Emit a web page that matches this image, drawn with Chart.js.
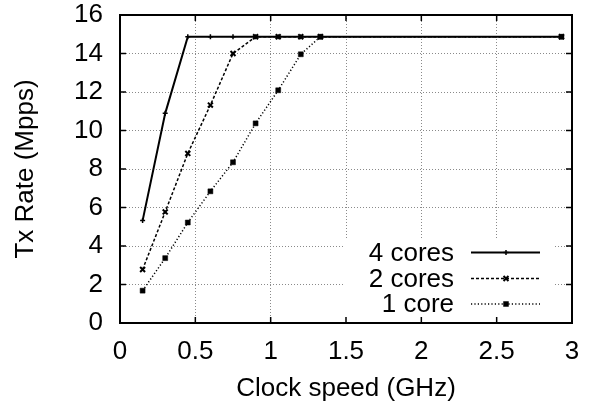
<!DOCTYPE html>
<html>
<head>
<meta charset="utf-8">
<script src="https://cdn.jsdelivr.net/npm/chart.js@4/dist/chart.umd.min.js"></script>
<style>
  html, body { margin: 0; padding: 0; background: #fff; overflow: hidden; }
  #wrap { width: 592px; height: 404px; position: relative; }
</style>
</head>
<body>
<div id="wrap"><canvas id="txChart"></canvas></div>
<script>
// clock speeds (GHz) and tx rates (Mpps)
const clockGHz = [0.15, 0.3, 0.45, 0.6, 0.75, 0.9, 1.05, 1.2, 1.33, 2.93];
const fourCores = [5.32, 10.89, 14.87, 14.87, 14.87, 14.87, 14.87, 14.87, 14.87, 14.87];
const twoCores  = [2.78, 5.77, 8.81, 11.32, 14.0, 14.87, 14.87, 14.87, 14.87, 14.87];
const oneCore   = [1.68, 3.37, 5.22, 6.84, 8.35, 10.37, 12.09, 13.96, 14.87, 14.87];
const seriesLabels = ['4 cores', '2 cores', '1 core'];
const xTicks = [0, 0.5, 1, 1.5, 2, 2.5, 3];
const yTicks = [0, 2, 4, 6, 8, 10, 12, 14, 16];

const FONT = 'Liberation Sans, Arial, Helvetica, sans-serif';
const FS = 26;

function pts(ys) {
  return clockGHz.map((x, i) => ({ x: x, y: ys[i] }));
}

// gnuplot-ish key: opaque box, text right aligned, sample to the right
const keyPlugin = {
  id: 'gnuKey',
  afterDatasetsDraw(chart) {
    const ctx = chart.ctx;
    const a = chart.chartArea;
    ctx.save();
    ctx.fillStyle = '#fff';
    ctx.fillRect(a.right - 228, a.bottom - 85, 211, 84);
    ctx.font = FS + 'px ' + FONT;
    ctx.textAlign = 'right';
    ctx.textBaseline = 'middle';
    ctx.fillStyle = '#000';
    const rowY = [a.bottom - 70.5, a.bottom - 44.5, a.bottom - 19];
    chart.data.datasets.forEach((ds, i) => {
      const y = rowY[i];
      ctx.fillText(ds.label, a.right - 118, y + 1);
      ctx.save();
      ctx.strokeStyle = ds.borderColor;
      ctx.lineWidth = ds.borderWidth;
      ctx.setLineDash(ds.borderDash || []);
      ctx.beginPath();
      ctx.moveTo(a.right - 101, y);
      ctx.lineTo(a.right - 32, y);
      ctx.stroke();
      ctx.restore();
      ctx.save();
      ctx.strokeStyle = ds.pointBorderColor;
      ctx.fillStyle = ds.pointBackgroundColor;
      ctx.lineWidth = ds.pointBorderWidth;
      Chart.helpers.drawPoint(ctx, {
        pointStyle: ds.pointStyle, radius: ds.pointRadius, rotation: 0, borderWidth: ds.pointBorderWidth
      }, a.right - 66, y);
      ctx.restore();
    });
    ctx.restore();
  },
  afterDraw(chart) {
    const ctx = chart.ctx;
    const a = chart.chartArea;
    const xs = chart.scales.x, ys = chart.scales.y;
    ctx.save();
    ctx.strokeStyle = '#000';
    ctx.lineWidth = 1.5;
    ctx.beginPath();
    xTicks.forEach(v => {
      const px = xs.getPixelForValue(v);
      ctx.moveTo(px, a.bottom); ctx.lineTo(px, a.bottom - 6);
      ctx.moveTo(px, a.top); ctx.lineTo(px, a.top + 6);
    });
    yTicks.forEach(v => {
      const py = ys.getPixelForValue(v);
      ctx.moveTo(a.left, py); ctx.lineTo(a.left + 6, py);
      ctx.moveTo(a.right, py); ctx.lineTo(a.right - 6, py);
    });
    ctx.stroke();
    ctx.lineWidth = 2;
    ctx.strokeRect(a.left, a.top, a.right - a.left, a.bottom - a.top);
    ctx.restore();
  }
};

const gridColor = (ctx) => {
  const t = ctx.tick ? ctx.tick.value : null;
  const s = ctx.scale;
  if (t === s.min || t === s.max) return 'rgba(0,0,0,0)';
  return '#8a8a8a';
};

new Chart(document.getElementById('txChart'), {
  type: 'line',
  data: {
    datasets: [
      {
        label: seriesLabels[0], data: pts(fourCores),
        borderColor: '#000', borderWidth: 2, borderDash: [],
        pointStyle: 'cross', pointRadius: 2.5, pointBorderWidth: 1.5,
        pointBorderColor: '#000', pointBackgroundColor: '#000'
      },
      {
        label: seriesLabels[1], data: pts(twoCores),
        borderColor: '#000', borderWidth: 1.5, borderDash: [3, 2],
        pointStyle: 'crossRot', pointRadius: 3.5, pointBorderWidth: 2,
        pointBorderColor: '#000', pointBackgroundColor: '#000'
      },
      {
        label: seriesLabels[2], data: pts(oneCore),
        borderColor: '#000', borderWidth: 1.5, borderDash: [1.2, 2.2],
        pointStyle: 'rect', pointRadius: 3.5, pointBorderWidth: 0.5,
        pointBorderColor: '#000', pointBackgroundColor: '#000'
      }
    ]
  },
  options: {
    responsive: true,
    maintainAspectRatio: false,
    animation: false,
    events: [],
    layout: { padding: { top: 15, right: 20, left: 0, bottom: 0 } },
    plugins: { legend: { display: false }, tooltip: { enabled: false } },
    elements: { line: { tension: 0, fill: false } },
    scales: {
      x: {
        type: 'linear', min: 0, max: 3,
        afterBuildTicks: (s) => { s.ticks = xTicks.map(v => ({ value: v })); },
        afterFit: (s) => { s.height = 81; s.paddingLeft = 0; s.paddingRight = 0; },
        grid: { color: gridColor, lineWidth: 1, drawTicks: false },
        border: { display: false, dash: [1, 2] },
        ticks: { color: '#000', padding: 13, font: { family: FONT, size: FS },
                 callback: (v) => String(v) },
        title: { display: true, text: 'Clock speed (GHz)', color: '#000',
                 padding: { top: 0, bottom: 0 }, font: { family: FONT, size: FS } }
      },
      y: {
        type: 'linear', min: 0, max: 16,
        afterBuildTicks: (s) => { s.ticks = yTicks.map(v => ({ value: v })); },
        afterFit: (s) => { s.width = 120; s.paddingTop = 0; s.paddingBottom = 0; },
        grid: { color: gridColor, lineWidth: 1, drawTicks: false },
        border: { display: false, dash: [1, 2] },
        ticks: { color: '#000', padding: 17, font: { family: FONT, size: FS },
                 callback: (v) => String(v) },
        title: { display: true, text: 'Tx Rate (Mpps)', color: '#000',
                 padding: { top: 10, bottom: 0 }, font: { family: FONT, size: FS } }
      }
    }
  },
  plugins: [keyPlugin]
});
</script>
</body>
</html>
